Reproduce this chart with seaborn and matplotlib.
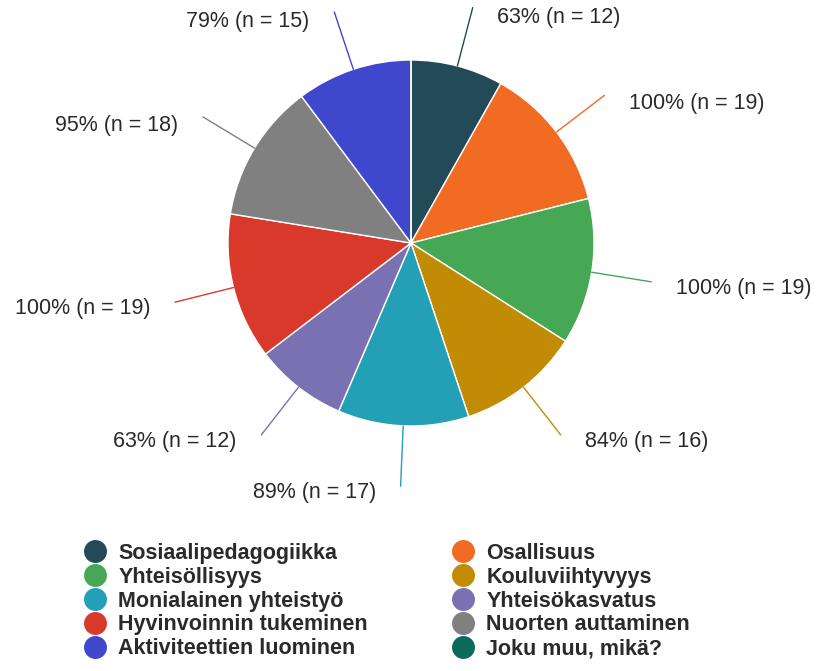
import numpy as np
import matplotlib
matplotlib.use("Agg")
import matplotlib.pyplot as plt
import seaborn as sns
from matplotlib.lines import Line2D

# data
categories = ["Sosiaalipedagogiikka", "Osallisuus", "Yhteisöllisyys", "Kouluviihtyvyys",
              "Monialainen yhteistyö", "Yhteisökasvatus", "Hyvinvoinnin tukeminen",
              "Nuorten auttaminen", "Aktiviteettien luominen", "Joku muu, mikä?"]
counts = [12, 19, 19, 16, 17, 12, 19, 18, 15, 0]
percents = [63, 100, 100, 84, 89, 63, 100, 95, 79, 0]
colors = ["#234a57", "#f26b22", "#46a755", "#c18b03", "#23a0b5",
          "#7a71b3", "#d9392b", "#808080", "#3f48cc", "#0b6a5a"]

sns.set_style("white")
plt.rcParams["font.family"] = ["Liberation Sans", "DejaVu Sans"]

W, H = 818, 671
fig = plt.figure(figsize=(W / 100, H / 100), dpi=100)
ax = fig.add_axes([0, 0, 1, 1])

wedges, _ = ax.pie(counts, colors=colors, startangle=90, counterclock=False,
                   radius=1, center=(0, 0),
                   wedgeprops=dict(edgecolor="white", linewidth=1))

# pie centre at (411, 243) px, radius 183 px
cx, cy, R = 411, 243, 183
ax.set_aspect("auto")
ax.set_xlim(-cx / R, (W - cx) / R)
ax.set_ylim(-(H - cy) / R, cy / R)
ax.axis("off")

# outside labels with leader lines
total = sum(counts)
cum = 0
for i, n in enumerate(counts):
    if n == 0:
        continue
    mid = (cum + n / 2) / total * 2 * np.pi
    cum += n
    sx, sy = np.sin(mid), np.cos(mid)
    ax.plot([sx * 1.0, sx * 1.33], [sy * 1.0, sy * 1.33], color=colors[i], lw=1)
    side = 1 if sx > 0 else -1
    ax.text(sx * 1.33 + side * 0.135, sy * 1.33 - 0.035 - 0.02 * max(sy, 0),
            f"{percents[i]}% (n = {n})", ha="left" if side > 0 else "right",
            va="center", fontsize=15.5, color="#2a2a2a")

# legend, row-major over two columns
handles = [Line2D([], [], marker="o", ls="", markersize=15.5, color=c,
                  markeredgecolor=c) for c in colors]
order = list(range(0, 10, 2)) + list(range(1, 10, 2))
leg = fig.legend([handles[i] for i in order], [categories[i] for i in order],
                 ncol=2, loc="upper left", bbox_to_anchor=(84 / W, 1 - 543 / H),
                 frameon=False, borderpad=0, borderaxespad=0, labelspacing=0.13,
                 handlelength=1.0, handletextpad=0.6, columnspacing=3.9,
                 prop=dict(size=15.5, weight="bold"))
for t in leg.get_texts():
    t.set_color("#2a2a2a")

fig.savefig("out.png", dpi=100)
